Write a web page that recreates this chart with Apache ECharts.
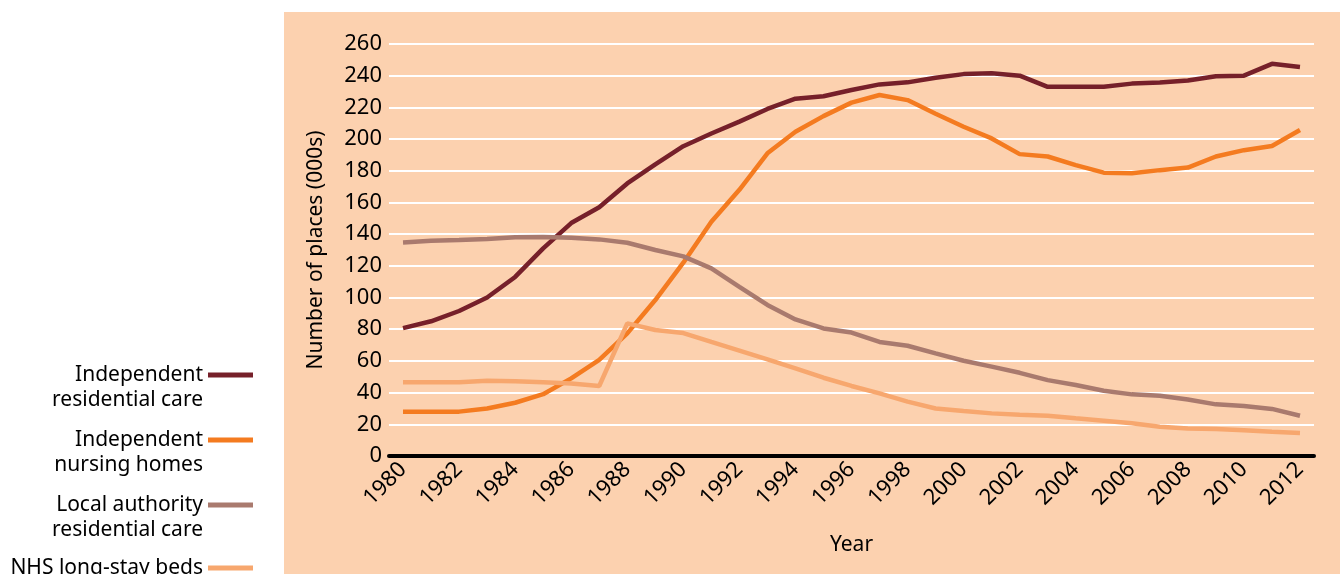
<!DOCTYPE html>
<html><head><meta charset="utf-8">
<script src="https://cdn.jsdelivr.net/npm/echarts@6/dist/echarts.min.js"></script>
<style>html,body{margin:0;padding:0;background:#fff}#c{width:1340px;height:574px}</style>
</head><body><div id="c"></div>
<script>
const years = ['1980','1981','1982','1983','1984','1985','1986','1987','1988','1989','1990','1991','1992','1993','1994','1995','1996','1997','1998','1999','2000','2001','2002','2003','2004','2005','2006','2007','2008','2009','2010','2011','2012'];
const seriesNames = ['Independent residential care','Independent nursing homes','Local authority residential care','NHS long-stay beds'];
const legendLabels = ['Independent\nresidential care','Independent\nnursing homes','Local authority\nresidential care','NHS long-stay beds'];
const independentResidential = [80.7,85,91.5,100,113,131,147,157,172,184,195.5,203.5,211,219,225.5,227,231,234.5,235.8,238.7,241,241.6,240,233,233,233,235,235.7,237,239.7,240,247.5,245.5];
const independentNursing = [28,28,28,30,33.6,39,49,60.6,77.4,98.4,122,147.8,168,191,204.6,214.5,223,227.8,224.6,216,207.8,200.4,190.5,189,183.6,178.8,178.4,180.4,182,189,193,195.6,205.7];
const localAuthority = [134.8,135.8,136.3,137,138,138.2,137.7,136.7,134.6,130,126,118.4,106.8,95.3,86.2,80.5,77.9,72,69.6,64.8,60.1,56.4,52.5,47.9,44.8,41.2,38.9,38,35.7,32.6,31.5,29.7,25.4];
const nhsBeds = [46.5,46.5,46.5,47.5,47.1,46.5,45.8,44.2,83.7,79.5,77.6,72,66.5,61,55.3,49.4,44.2,39.5,34.3,30,28.4,26.9,26,25.4,23.8,22.3,20.6,18.5,17.4,17,16.2,15.3,14.5];
const colors = ['#76202A','#F47B20','#A97A6E','#F7A76E'];
const FONT = 'Noto Sans';

const chart = echarts.init(document.getElementById('c'));
const dataSets = [independentResidential, independentNursing, localAuthority, nhsBeds];
const legendFirstLineY = [375, 440, 505, 568];
const legends = seriesNames.map((n, i) => {
  const twoLine = legendLabels[i].indexOf('\n') >= 0;
  const top = twoLine ? legendFirstLineY[i] - 37.5 - 5 : legendFirstLineY[i] - 12.5 - 5;
  return {
    orient: 'vertical', right: 1082, top: top, align: 'right',
    icon: 'rect', itemWidth: 45, itemHeight: 5, itemGap: 0,
    formatter: () => twoLine ? ' \n' + legendLabels[i] : legendLabels[i],
    textStyle: {fontFamily: FONT, fontSize: 21, color: '#000', lineHeight: 25, align: 'right'},
    data: [n]
  };
});
chart.setOption({
  animation: false,
  textStyle: {fontFamily: FONT},
  graphic: [{type:'rect', z:-10, silent:true, shape:{x:284,y:12,width:1056,height:562}, style:{fill:'#FCD1AF'}}],
  legend: legends,
  grid: {left: 389, right: 26, top: 44, bottom: 118},
  xAxis: {
    type: 'category', data: years, boundaryGap: true,
    name: 'Year', nameLocation: 'middle', nameGap: 79,
    nameTextStyle: {fontFamily: FONT, fontSize: 21, color: '#000'},
    axisLine: {lineStyle: {color: '#000', width: 4}},
    axisTick: {show: false},
    axisLabel: {interval: 1, rotate: 45, fontFamily: FONT, fontSize: 22, color: '#000', margin: 10}
  },
  yAxis: {
    type: 'value', min: 0, max: 260, interval: 20,
    name: 'Number of places (000s)', nameLocation: 'middle', nameGap: 62, nameRotate: 90,
    nameTextStyle: {fontFamily: FONT, fontSize: 21, color: '#000'},
    axisLine: {show: false}, axisTick: {show: false},
    axisLabel: {fontFamily: FONT, fontSize: 22, color: '#000', margin: 7},
    splitLine: {lineStyle: {color: '#fff', width: 2}}
  },
  series: dataSets.map((d, i) => ({
    name: seriesNames[i], type: 'line', data: d, symbol: 'none',
    lineStyle: {color: colors[i], width: 4.5}, itemStyle: {color: colors[i]}
  }))
});
</script></body></html>
